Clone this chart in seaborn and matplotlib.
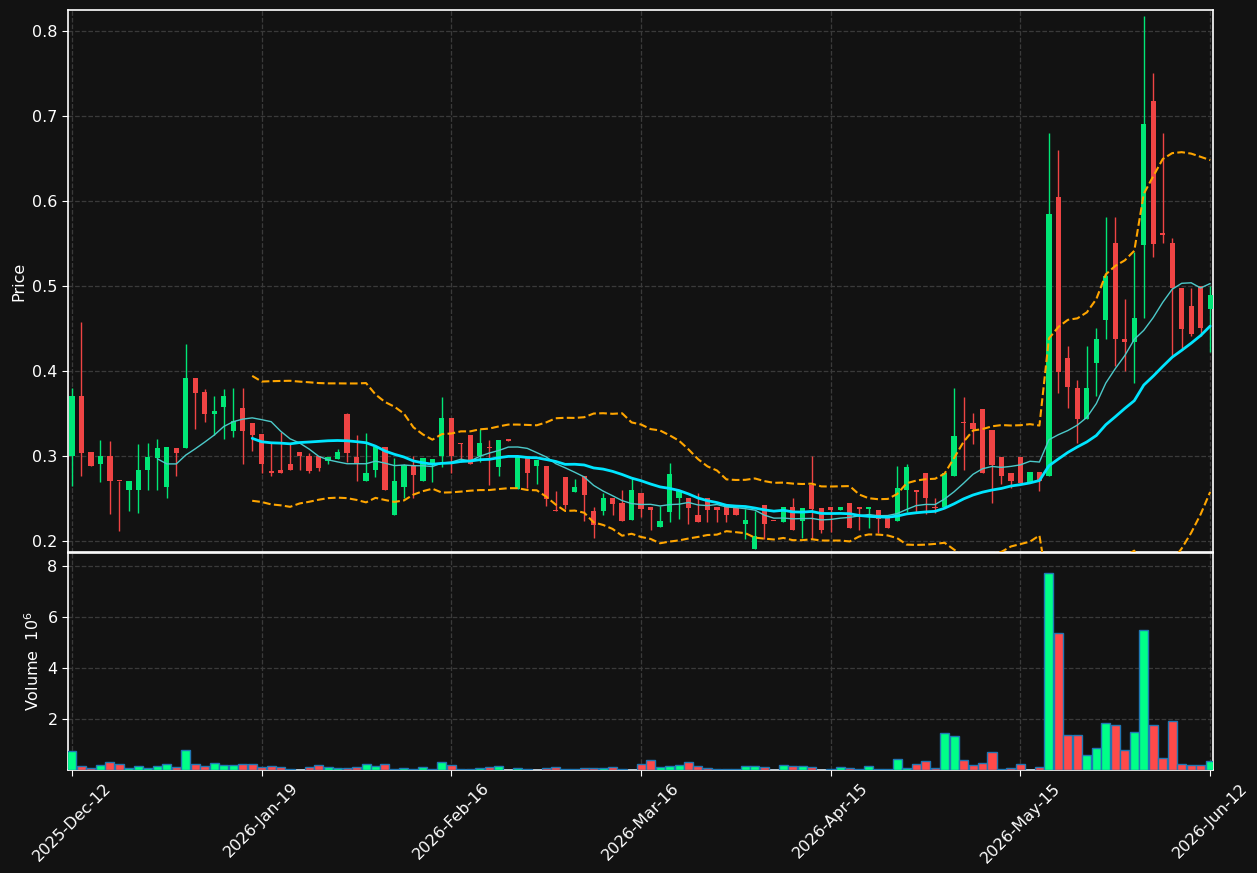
import numpy as np
import pandas as pd
import matplotlib
matplotlib.use("Agg")
import matplotlib.pyplot as plt
import seaborn as sns

# <--- chart data --->
tick_labels = ["2025-Dec-12", "2026-Jan-19", "2026-Feb-16", "2026-Mar-16",
               "2026-Apr-15", "2026-May-15", "2026-Jun-12"]

opens = [0.300, 0.371, 0.305, 0.290, 0.300, 0.271, 0.260, 0.260, 0.283, 0.298,
         0.264, 0.310, 0.309, 0.392, 0.375, 0.349, 0.358, 0.330, 0.356, 0.339,
         0.326, 0.282, 0.283, 0.291, 0.305, 0.300, 0.300, 0.294, 0.296, 0.349,
         0.299, 0.271, 0.284, 0.311, 0.230, 0.264, 0.289, 0.270, 0.291, 0.300,
         0.345, 0.315, 0.325, 0.300, 0.311, 0.287, 0.319, 0.261, 0.298, 0.288,
         0.288, 0.236, 0.275, 0.258, 0.276, 0.235, 0.235, 0.251, 0.245, 0.225,
         0.256, 0.240, 0.216, 0.234, 0.251, 0.251, 0.231, 0.251, 0.240, 0.241,
         0.239, 0.220, 0.191, 0.242, 0.224, 0.222, 0.240, 0.224, 0.266, 0.239,
         0.240, 0.236, 0.245, 0.239, 0.238, 0.237, 0.229, 0.224, 0.260, 0.2585,
         0.280, 0.240, 0.240, 0.277, 0.340, 0.339, 0.355, 0.331, 0.299, 0.280,
         0.299, 0.268, 0.281, 0.276, 0.605, 0.415, 0.380, 0.344, 0.409, 0.460,
         0.551, 0.438, 0.434, 0.548, 0.718, 0.563, 0.551, 0.498, 0.477, 0.500,
         0.473]
highs = [0.380, 0.458, 0.305, 0.319, 0.318, 0.271, 0.271, 0.314, 0.315, 0.320,
         0.311, 0.310, 0.432, 0.392, 0.379, 0.371, 0.379, 0.380, 0.380, 0.339,
         0.326, 0.315, 0.328, 0.315, 0.305, 0.304, 0.300, 0.299, 0.308, 0.351,
         0.325, 0.327, 0.311, 0.311, 0.298, 0.291, 0.300, 0.298, 0.296, 0.369,
         0.345, 0.315, 0.325, 0.332, 0.319, 0.319, 0.319, 0.299, 0.298, 0.295,
         0.288, 0.259, 0.275, 0.273, 0.276, 0.240, 0.257, 0.251, 0.260, 0.274,
         0.256, 0.240, 0.241, 0.292, 0.260, 0.251, 0.256, 0.251, 0.240, 0.241,
         0.239, 0.238, 0.235, 0.242, 0.224, 0.240, 0.251, 0.239, 0.300, 0.239,
         0.240, 0.240, 0.245, 0.239, 0.239, 0.237, 0.229, 0.288, 0.290, 0.2585,
         0.280, 0.250, 0.280, 0.380, 0.369, 0.351, 0.355, 0.331, 0.299, 0.280,
         0.299, 0.281, 0.281, 0.680, 0.660, 0.429, 0.389, 0.429, 0.451, 0.581,
         0.581, 0.485, 0.540, 0.818, 0.751, 0.680, 0.557, 0.498, 0.498, 0.500,
         0.500]
lows = [0.265, 0.276, 0.288, 0.269, 0.232, 0.212, 0.235, 0.233, 0.260, 0.260,
        0.251, 0.276, 0.309, 0.332, 0.340, 0.325, 0.320, 0.322, 0.291, 0.306,
        0.280, 0.277, 0.280, 0.284, 0.284, 0.280, 0.282, 0.290, 0.296, 0.293,
        0.271, 0.271, 0.275, 0.260, 0.230, 0.251, 0.251, 0.270, 0.269, 0.287,
        0.280, 0.293, 0.291, 0.293, 0.266, 0.276, 0.318, 0.261, 0.262, 0.267,
        0.241, 0.235, 0.238, 0.258, 0.224, 0.203, 0.231, 0.231, 0.223, 0.225,
        0.228, 0.213, 0.216, 0.222, 0.226, 0.220, 0.222, 0.222, 0.222, 0.222,
        0.230, 0.202, 0.191, 0.202, 0.2235, 0.222, 0.213, 0.204, 0.202, 0.209,
        0.210, 0.236, 0.215, 0.213, 0.215, 0.209, 0.215, 0.224, 0.234, 0.234,
        0.232, 0.233, 0.240, 0.277, 0.283, 0.314, 0.280, 0.245, 0.267, 0.262,
        0.268, 0.268, 0.259, 0.276, 0.374, 0.357, 0.315, 0.344, 0.371, 0.438,
        0.406, 0.400, 0.386, 0.463, 0.534, 0.551, 0.418, 0.425, 0.441, 0.441,
        0.423]
closes = [0.371, 0.304, 0.288, 0.300, 0.270, 0.270, 0.271, 0.284, 0.299, 0.310,
          0.311, 0.304, 0.392, 0.374, 0.349, 0.353, 0.371, 0.341, 0.329, 0.325,
          0.290, 0.280, 0.280, 0.284, 0.300, 0.282, 0.286, 0.299, 0.305, 0.303,
          0.290, 0.280, 0.311, 0.260, 0.271, 0.289, 0.278, 0.298, 0.296, 0.345,
          0.300, 0.314, 0.291, 0.315, 0.309, 0.319, 0.318, 0.299, 0.280, 0.295,
          0.249, 0.235, 0.242, 0.263, 0.254, 0.219, 0.251, 0.244, 0.223, 0.260,
          0.238, 0.237, 0.223, 0.279, 0.259, 0.239, 0.222, 0.236, 0.236, 0.231,
          0.230, 0.225, 0.206, 0.220, 0.2235, 0.240, 0.213, 0.239, 0.238, 0.213,
          0.236, 0.240, 0.215, 0.238, 0.239, 0.226, 0.215, 0.262, 0.287, 0.258,
          0.250, 0.239, 0.280, 0.323, 0.339, 0.332, 0.280, 0.289, 0.276, 0.270,
          0.268, 0.281, 0.271, 0.585, 0.399, 0.381, 0.344, 0.380, 0.438, 0.512,
          0.438, 0.434, 0.462, 0.691, 0.550, 0.560, 0.498, 0.450, 0.444, 0.451,
          0.490]
# volume in millions
volumes = [0.73, 0.14, 0.07, 0.18, 0.30, 0.22, 0.07, 0.14, 0.09, 0.14,
           0.22, 0.10, 0.77, 0.22, 0.14, 0.26, 0.18, 0.18, 0.22, 0.22,
           0.10, 0.14, 0.10, 0.03, 0.01, 0.10, 0.18, 0.10, 0.07, 0.07,
           0.10, 0.22, 0.14, 0.22, 0.03, 0.07, 0.03, 0.10, 0.03, 0.30,
           0.18, 0.03, 0.03, 0.07, 0.10, 0.14, 0.01, 0.07, 0.03, 0.01,
           0.07, 0.10, 0.03, 0.03, 0.07, 0.07, 0.07, 0.10, 0.03, 0.01,
           0.22, 0.38, 0.10, 0.14, 0.18, 0.30, 0.14, 0.07, 0.03, 0.03,
           0.03, 0.14, 0.14, 0.10, 0.01, 0.18, 0.14, 0.14, 0.10, 0.01,
           0.03, 0.10, 0.07, 0.03, 0.14, 0.03, 0.03, 0.42, 0.07, 0.22,
           0.34, 0.07, 1.44, 1.32, 0.38, 0.18, 0.26, 0.69, 0.03, 0.07,
           0.22, 0.01, 0.10, 7.71, 5.36, 1.36, 1.36, 0.58, 0.85, 1.83,
           1.75, 0.77, 1.48, 5.48, 1.75, 0.46, 1.91, 0.22, 0.18, 0.18,
           0.34]

df = pd.DataFrame({"open": opens, "high": highs, "low": lows,
                   "close": closes, "volume": volumes})
df["idx"] = np.arange(len(df))
df["ma10"] = df["close"].rolling(10).mean()
df["ma20"] = df["close"].rolling(20).mean()
std20 = df["close"].rolling(20).std(ddof=0)
df["bb_up"] = df["ma20"] + 2 * std20
df["bb_low"] = df["ma20"] - 2 * std20

up = df["close"] >= df["open"]
bg = "#121212"

sns.set_style("darkgrid", {
    "axes.facecolor": bg, "figure.facecolor": bg,
    "grid.color": "#3a3a3a", "grid.linestyle": "--",
    "axes.edgecolor": "white", "text.color": "white",
    "axes.labelcolor": "white", "xtick.color": "white", "ytick.color": "white",
    "xtick.bottom": True, "ytick.left": True,
})
plt.rcParams["font.family"] = ["DejaVu Sans"]

fig = plt.figure(figsize=(12.57, 8.73), dpi=100)
W, H = 1257, 873
ax = fig.add_axes([68 / W, 1 - 552 / H, 1145 / W, 542 / H])
axv = fig.add_axes([68 / W, 1 - 770 / H, 1145 / W, 217 / H], sharex=ax)

# candles
candle_col = np.where(up, "#00e676", "#ef4444")
ax.vlines(df["idx"], df["low"], df["high"], colors=candle_col, linewidth=1, zorder=2)
body_low = np.minimum(df["open"], df["close"])
body_h = np.maximum(np.abs(df["close"] - df["open"]), 0.0015)
ax.bar(df["idx"], body_h, bottom=body_low, width=0.55, color=candle_col,
       linewidth=0, zorder=3)

# indicators
sns.lineplot(data=df, x="idx", y="ma10", ax=ax, color="#4cc9c9", linewidth=1.0, zorder=4)
sns.lineplot(data=df, x="idx", y="ma20", ax=ax, color="#00e5ff", linewidth=2.0, zorder=4)
sns.lineplot(data=df, x="idx", y="bb_up", ax=ax, color="orange", linewidth=1.5,
             linestyle="--", zorder=4)
sns.lineplot(data=df, x="idx", y="bb_low", ax=ax, color="orange", linewidth=1.5,
             linestyle="--", zorder=4)

# volume
vol_col = np.where(up, "#00ff88", "#ff4a4a")
axv.bar(df["idx"], df["volume"], width=0.95, color=vol_col,
        edgecolor="#1f77b4", linewidth=1.0, zorder=3)

ticks = np.arange(0, len(df), 20)
ax.set_xlim(-0.42, 120.3)
ax.set_ylim(0.187, 0.825)
ax.set_yticks([0.2, 0.3, 0.4, 0.5, 0.6, 0.7, 0.8])
ax.set_ylabel("Price", fontsize=11.5)
ax.set_xlabel("")
ax.tick_params(axis="x", length=0, labelbottom=False)
ax.tick_params(axis="y", labelsize=11.5, length=4)

axv.set_ylim(0, 8.5)
axv.set_yticks([2, 4, 6, 8])
axv.set_ylabel("Volume  $10^{6}$", fontsize=11.5)
axv.set_xticks(ticks)
axv.set_xticklabels(tick_labels, rotation=45)
axv.tick_params(axis="x", labelsize=11.5, length=4)
axv.tick_params(axis="y", labelsize=11.5, length=4)
axv.set_xlabel("")

for a in (ax, axv):
    a.grid(True, linestyle="--", color="#3a3a3a", linewidth=0.9)
    for s in a.spines.values():
        s.set_color("white")
        s.set_linewidth(1.2)

fig.savefig("out.png", dpi=100, facecolor=bg)
